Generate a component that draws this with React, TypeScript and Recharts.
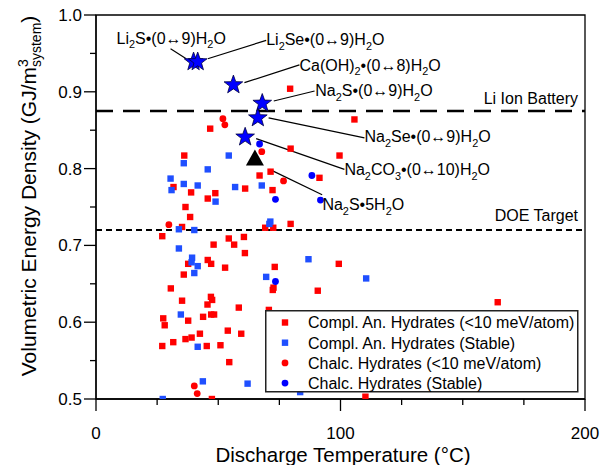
import React from "react";
import { ScatterChart, Scatter, XAxis, YAxis, ReferenceLine, ReferenceArea } from "recharts";

// ---------- data ----------
const complUnstableX = [79.4, 46.7, 79.6, 99.6, 36.1, 66.9, 71.4, 91.4, 31.7, 38.9, 48.8, 45.7, 61.0, 72.2, 36.6, 38.5, 35.2, 69.2, 72.5, 79.6, 27.1, 37.7, 35.9, 30.6, 35.2, 27.5, 28.1, 37.7, 43.8, 36.6, 39.1, 42.5, 31.6, 27.1, 48.1, 54.3, 56.5, 60.5, 60.9, 45.7, 47.1, 52.8, 47.0, 47.5, 45.6, 58.4, 47.1, 48.3, 53.9, 59.4, 45.3, 50.9, 54.5, 47.4, 70.7, 73.1, 72.3, 72.6, 105.7, 99.3, 90.7, 164.3, 110.2];
const complUnstableY = [0.904, 0.852, 0.826, 0.817, 0.817, 0.791, 0.796, 0.788, 0.776, 0.769, 0.768, 0.761, 0.774, 0.772, 0.750, 0.737, 0.724, 0.723, 0.723, 0.728, 0.712, 0.676, 0.662, 0.644, 0.628, 0.605, 0.596, 0.602, 0.607, 0.578, 0.580, 0.585, 0.574, 0.569, 0.701, 0.709, 0.701, 0.711, 0.690, 0.681, 0.676, 0.671, 0.633, 0.629, 0.623, 0.619, 0.610, 0.610, 0.589, 0.585, 0.569, 0.570, 0.548, 0.500, 0.616, 0.672, 0.642, 0.645, 0.864, 0.676, 0.641, 0.626, 0.503];

const complStableX = [35.9, 54.3, 45.7, 30.5, 30.9, 35.9, 41.6, 48.9, 56.9, 67.8, 33.9, 40.2, 71.3, 70.9, 33.9, 39.3, 39.1, 41.6, 40.2, 34.7, 41.6, 43.7, 27.3, 62.0, 69.6, 86.9, 110.5, 83.5];
const complStableY = [0.807, 0.817, 0.799, 0.787, 0.772, 0.780, 0.778, 0.757, 0.776, 0.778, 0.721, 0.720, 0.731, 0.728, 0.696, 0.684, 0.678, 0.673, 0.664, 0.610, 0.568, 0.523, 0.500, 0.520, 0.659, 0.682, 0.657, 0.509];

const chalcUnstableX = [51.9, 52.7, 67.8, 76.7, 29.8, 40.2, 41.4];
const chalcUnstableY = [0.865, 0.857, 0.822, 0.784, 0.727, 0.517, 0.507];

const chalcStableX = [66.9, 88.3, 73.4, 91.8, 73.4];
const chalcStableY = [0.832, 0.791, 0.760, 0.759, 0.653];

// highlighted (0<->n) hydrate pairs (stars) and the single hydrate (triangle)
const starX = [39.9, 41.6, 56.2, 68.0, 66.2, 61.0];
const starY = [0.939, 0.939, 0.909, 0.885, 0.866, 0.841];
const triangleX = [65.0];
const triangleY = [0.813];

// annotation labels ("_n" = subscript)
const annotNames = [
  "Li_2S•(0↔9)H_2O",
  "Li_2Se•(0↔9)H_2O",
  "Ca(OH)_2•(0↔8)H_2O",
  "Na_2S•(0↔9)H_2O",
  "Na_2Se•(0↔9)H_2O",
  "Na_2CO_3•(0↔10)H_2O",
  "Na_2S•5H_2O",
];
const labelX = [8.4, 69.6, 83.2, 89.7, 109.8, 101.6, 92.6];
const labelY = [0.970, 0.968, 0.935, 0.902, 0.842, 0.799, 0.753];
const leaderX1 = [30.5, 45.7, 60.7, 72.7, 70.6, 65.5, 71.0];
const leaderY1 = [0.956, 0.943, 0.912, 0.888, 0.866, 0.839, 0.799];
const leaderX2 = [36.9, 69.6, 83.2, 89.4, 109.8, 101.6, 92.5];
const leaderY2 = [0.943, 0.967, 0.935, 0.901, 0.840, 0.799, 0.766];

const liIonLevel = 0.875;
const doeLevel = 0.72;
const refLabels = ["Li Ion Battery", "DOE Target"];

const xTicks = [0, 25, 50, 75, 100, 125, 150, 175, 200];
const xLabeled = [0, 100, 200];
const yTicks = [0.5, 0.55, 0.6, 0.65, 0.7, 0.75, 0.8, 0.85, 0.9, 0.95, 1.0];
const yLabeled = [0.5, 0.6, 0.7, 0.8, 0.9, 1.0];

const legendNames = [
  "Compl. An. Hydrates (<10 meV/atom)",
  "Compl. An. Hydrates (Stable)",
  "Chalc. Hydrates (<10 meV/atom)",
  "Chalc. Hydrates (Stable)",
];

// ---------- styles ----------
const FONT = "'Liberation Sans', Arial, Helvetica, sans-serif";
const RED = "#ff0000";
const BLUE_SQ = "#1f4fff";
const BLUE = "#0000ff";

const zip = (xs: number[], ys: number[]) => xs.map((x, i) => ({ x, y: ys[i] }));

const SquareShape = (color: string) => (p: any) => (
  <rect x={p.cx - 3.2} y={p.cy - 3.2} width={6.4} height={6.4} fill={color} />
);
const CircleShape = (color: string) => (p: any) => (
  <circle cx={p.cx} cy={p.cy} r={3.4} fill={color} />
);
const StarShape = (p: any) => {
  const R = 9.8, r = 4.0;
  const pts: string[] = [];
  for (let i = 0; i < 10; i++) {
    const a = -Math.PI / 2 + (i * Math.PI) / 5;
    const rad = i % 2 === 0 ? R : r;
    pts.push(`${p.cx + rad * Math.cos(a)},${p.cy + rad * Math.sin(a)}`);
  }
  return <polygon points={pts.join(" ")} fill={BLUE} stroke="#000040" strokeWidth={0.8} />;
};
const TriangleShape = (p: any) => (
  <polygon
    points={`${p.cx},${p.cy - 9} ${p.cx - 9},${p.cy + 7} ${p.cx + 9},${p.cy + 7}`}
    fill="#000"
  />
);

function rich(s: string, fs: number) {
  const parts = s.split(/(_\d+)/).filter(Boolean);
  let shift = 0;
  return parts.map((part, i) => {
    if (part[0] === "_") {
      const el = (
        <tspan key={i} fontSize={fs * 0.68} dy={fs * 0.3 - shift}>
          {part.slice(1)}
        </tspan>
      );
      shift = fs * 0.3;
      return el;
    }
    const el = (
      <tspan key={i} dy={-shift}>
        {part}
      </tspan>
    );
    shift = 0;
    return el;
  });
}

const LabelShape = (p: any) => (
  <text x={p.cx} y={p.cy + 5.6} fontSize={16} fontFamily={FONT} fill="#000">
    {rich(p.payload.name, 16)}
  </text>
);

const XTick = (p: any) => {
  const v = p.payload.value;
  const major = xLabeled.includes(v);
  return (
    <g>
      <line x1={p.x} x2={p.x} y1={p.y} y2={p.y + (major ? 12 : 6)} stroke="#000" strokeWidth={1.3} />
      {major && (
        <text x={p.x} y={p.y + 40} textAnchor="middle" fontSize={17} fontFamily={FONT} fill="#000">
          {v}
        </text>
      )}
    </g>
  );
};
const YTick = (p: any) => {
  const v = p.payload.value;
  const major = yLabeled.some((t) => Math.abs(t - v) < 1e-6);
  return (
    <g>
      <line x1={p.x} x2={p.x - (major ? 12 : 6)} y1={p.y} y2={p.y} stroke="#000" strokeWidth={1.3} />
      {major && (
        <text x={p.x - 14} y={p.y + 6} textAnchor="end" fontSize={17} fontFamily={FONT} fill="#000">
          {v.toFixed(1)}
        </text>
      )}
    </g>
  );
};

const refLabel = (text: string, dyUp: number) => (props: any) => {
  const vb = props.viewBox || {};
  return (
    <text x={vb.x + vb.width - 7} y={vb.y - dyUp} textAnchor="end" fontSize={16} fontFamily={FONT} fill="#000">
      {text}
    </text>
  );
};

export default function App() {
  const labels = annotNames.map((name, i) => ({ x: labelX[i], y: labelY[i], name }));
  const legendColors = [RED, BLUE_SQ, RED, BLUE];
  return (
    <div style={{ position: "absolute", left: 0, top: 0, width: 600, height: 465, background: "#fff" }}>
      <ScatterChart width={600} height={465} margin={{ top: 15, right: 15, bottom: 0, left: 0 }}>
        <XAxis
          type="number"
          dataKey="x"
          domain={[0, 200]}
          ticks={xTicks}
          tick={<XTick />}
          tickSize={0}
          tickMargin={0}
          tickLine={false}
          height={66}
          axisLine={{ stroke: "#000", strokeWidth: 1.3 }}
          allowDataOverflow
          interval={0}
        />
        <YAxis
          type="number"
          dataKey="y"
          domain={[0.5, 1.0]}
          ticks={yTicks}
          tick={<YTick />}
          tickSize={0}
          tickMargin={0}
          tickLine={false}
          width={96}
          axisLine={{ stroke: "#000", strokeWidth: 1.3 }}
          allowDataOverflow
          interval={0}
        />
        <ReferenceArea x1={0} x2={200} y1={0.5} y2={1.0} fill="none" stroke="#000" strokeWidth={1.3} fillOpacity={0} />
        <ReferenceLine
          y={liIonLevel}
          stroke="#000"
          strokeWidth={2.6}
          strokeDasharray="17 10"
          label={refLabel(refLabels[0], 7)}
        />
        <ReferenceLine
          y={doeLevel}
          stroke="#000"
          strokeWidth={2}
          strokeDasharray="6 4"
          label={refLabel(refLabels[1], 9)}
        />
        {leaderX1.map((x1, i) => (
          <ReferenceLine
            key={"ld" + i}
            segment={[
              { x: x1, y: leaderY1[i] },
              { x: leaderX2[i], y: leaderY2[i] },
            ]}
            stroke="#000"
            strokeWidth={1.2}
          />
        ))}
        <Scatter data={zip(complUnstableX, complUnstableY)} shape={SquareShape(RED)} isAnimationActive={false} />
        <Scatter data={zip(complStableX, complStableY)} shape={SquareShape(BLUE_SQ)} isAnimationActive={false} />
        <Scatter data={zip(chalcUnstableX, chalcUnstableY)} shape={CircleShape(RED)} isAnimationActive={false} />
        <Scatter data={zip(chalcStableX, chalcStableY)} shape={CircleShape(BLUE)} isAnimationActive={false} />
        <Scatter data={zip(starX, starY)} shape={StarShape} isAnimationActive={false} />
        <Scatter data={zip(triangleX, triangleY)} shape={TriangleShape} isAnimationActive={false} />
        <Scatter data={labels} shape={LabelShape} isAnimationActive={false} />
      </ScatterChart>
      <svg
        width={600}
        height={465}
        style={{ position: "absolute", left: 0, top: 0, pointerEvents: "none" }}
      >
        <text x={343} y={462} textAnchor="middle" fontSize={20.5} fontFamily={FONT} fill="#000">
          Discharge Temperature (°C)
        </text>
        <text transform="translate(36,196) rotate(-90)" textAnchor="middle" fontSize={21} fontFamily={FONT} fill="#000">
          Volumetric Energy Density (GJ/m
          <tspan fontSize={14} dy={-8}>3</tspan>
          <tspan fontSize={14} dx={-7.8} dy={13}>system</tspan>
          <tspan dy={-5}>)</tspan>
        </text>
        <g transform="translate(265,310)">
          <rect x={0.75} y={0.75} width={312} height={81} fill="#fff" stroke="#222" strokeWidth={1.5} />
          {legendNames.map((name, i) => {
            const cy = 12.5 + i * 20.2;
            return (
              <g key={name}>
                {i < 2 ? (
                  <rect x={20 - 3.2} y={cy - 3.2} width={6.4} height={6.4} fill={legendColors[i]} />
                ) : (
                  <circle cx={20} cy={cy} r={3.4} fill={legendColors[i]} />
                )}
                <text x={43} y={cy + 5.8} fontSize={16} fontFamily={FONT} fill="#000">
                  {name}
                </text>
              </g>
            );
          })}
        </g>
      </svg>
    </div>
  );
}
